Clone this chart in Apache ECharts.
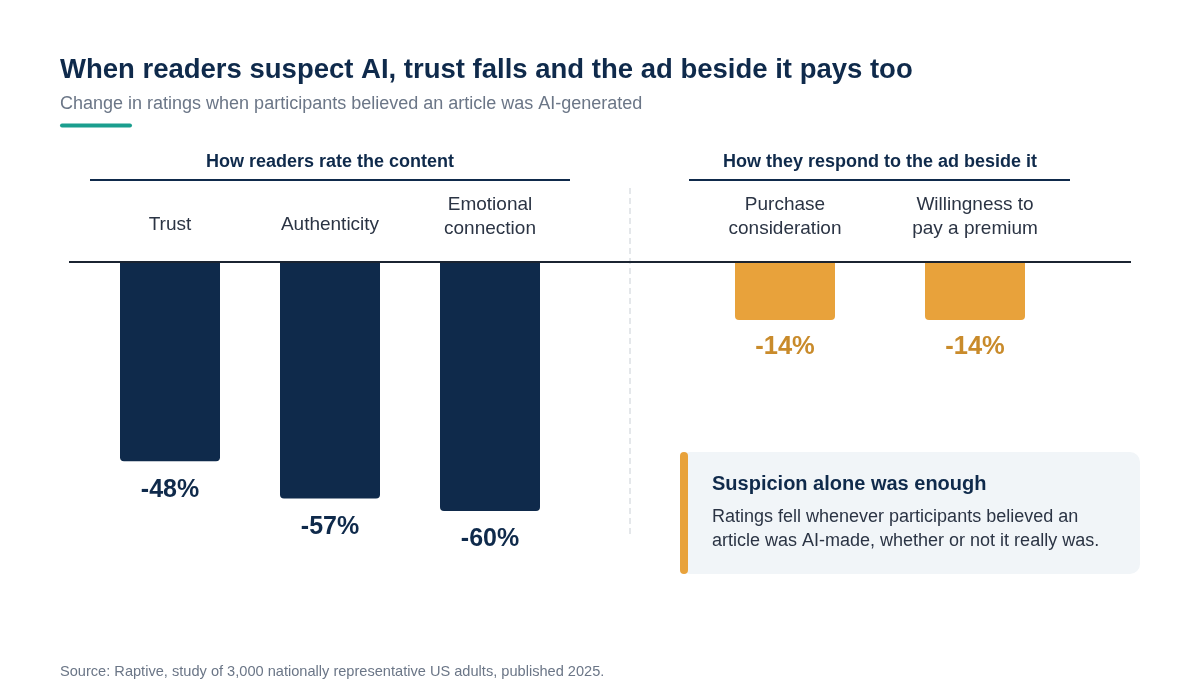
<!DOCTYPE html>
<html>
<head>
<meta charset="utf-8">
<script src="https://cdn.jsdelivr.net/npm/echarts@6/dist/echarts.min.js"></script>
<style>
  html, body { margin: 0; padding: 0; background: #ffffff; }
  #chart { width: 1200px; height: 700px; }
</style>
</head>
<body>
<div id="chart"></div>
<script>
// ---- Data ----
const contentCategories = ['Trust', 'Authenticity', 'Emotional\nconnection'];
const contentValues = [-48, -57, -60];
const adCategories = ['Purchase\nconsideration', 'Willingness to\npay a premium'];
const adValues = [-14, -14];
const groupTitles = ['How readers rate the content', 'How they respond to the ad beside it'];

const FONT = '"Liberation Sans", Arial, sans-serif';
const NAVY = '#0f2a4b';
const ORANGE = '#e8a23b';
const ORANGE_TEXT = '#c98b2b';

const chart = echarts.init(document.getElementById('chart'));

function xAxisFor(gridIndex, cats) {
  return {
    type: 'category',
    gridIndex: gridIndex,
    position: 'top',
    data: cats.map(c => ({ value: c, textStyle: { lineHeight: c.indexOf('\n') >= 0 ? 24 : 32 } })),
    axisLine: { show: false },
    axisTick: { show: false },
    axisLabel: {
      margin: 21,
      fontFamily: FONT,
      fontSize: 19,
      lineHeight: 24,
      color: '#2b3444',
      interval: 0
    }
  };
}
function yAxisFor(gridIndex) {
  return {
    type: 'value',
    gridIndex: gridIndex,
    min: -70,
    max: 0,
    show: false
  };
}
function labelFmt(p) { return p.value + '%'; }

chart.setOption({
  animation: false,
  grid: [
    { left: 90, width: 480, top: 262, height: 290.5 },
    { left: 690, width: 380, top: 262, height: 290.5 }
  ],
  xAxis: [xAxisFor(0, contentCategories), xAxisFor(1, adCategories)],
  yAxis: [yAxisFor(0), yAxisFor(1)],
  series: [
    {
      type: 'bar',
      xAxisIndex: 0, yAxisIndex: 0,
      data: contentValues,
      barWidth: 100,
      itemStyle: { color: NAVY, borderRadius: [0, 0, 4, 4] },
      label: {
        show: true, position: 'bottom', distance: 16,
        formatter: labelFmt,
        fontFamily: FONT, fontSize: 25, fontWeight: 'bold', color: NAVY
      }
    },
    {
      type: 'bar',
      xAxisIndex: 1, yAxisIndex: 1,
      data: adValues,
      barWidth: 100,
      itemStyle: { color: ORANGE, borderRadius: [0, 0, 4, 4] },
      label: {
        show: true, position: 'bottom', distance: 14,
        formatter: labelFmt,
        fontFamily: FONT, fontSize: 25.5, fontWeight: 'bold', color: ORANGE_TEXT
      }
    }
  ],
  graphic: [
    { type: 'text', x: 60, y: 70.5, style: { text: 'When readers suspect AI, trust falls and the ad beside it pays too', font: 'bold 27.5px ' + FONT, fill: NAVY, textVerticalAlign: 'middle' } },
    { type: 'text', x: 60, y: 104, style: { text: 'Change in ratings when participants believed an article was AI-generated', font: '18px ' + FONT, fill: '#6b7687', textVerticalAlign: 'middle' } },
    { type: 'rect', shape: { x: 60, y: 123.5, width: 72, height: 4, r: 2 }, style: { fill: '#1a9e8e' } },
    // group headers
    { type: 'text', x: 330, y: 162, style: { text: groupTitles[0], font: 'bold 18px ' + FONT, fill: NAVY, textAlign: 'center', textVerticalAlign: 'middle' } },
    { type: 'text', x: 880, y: 162, style: { text: groupTitles[1], font: 'bold 18px ' + FONT, fill: NAVY, textAlign: 'center', textVerticalAlign: 'middle' } },
    { type: 'line', shape: { x1: 90, y1: 180, x2: 570, y2: 180 }, style: { stroke: NAVY, lineWidth: 2 } },
    { type: 'line', shape: { x1: 689, y1: 180, x2: 1070, y2: 180 }, style: { stroke: NAVY, lineWidth: 2 } },
    // divider
    { type: 'line', shape: { x1: 630, y1: 188, x2: 630, y2: 538 }, style: { stroke: '#dcdfe3', lineWidth: 1.5, lineDash: [6, 4] } },
    // baseline
    { type: 'line', z: 100, shape: { x1: 69, y1: 262, x2: 1131, y2: 262 }, style: { stroke: '#1b2431', lineWidth: 2 } },
    // callout
    { type: 'rect', shape: { x: 680, y: 452, width: 460, height: 122, r: 10 }, style: { fill: '#f1f5f8' } },
    { type: 'rect', shape: { x: 680, y: 452, width: 8, height: 122, r: 4 }, style: { fill: ORANGE } },
    { type: 'text', x: 712, y: 484.5, style: { text: 'Suspicion alone was enough', font: 'bold 20px ' + FONT, fill: NAVY, textVerticalAlign: 'middle' } },
    { type: 'text', x: 712, y: 517, style: { text: 'Ratings fell whenever participants believed an', font: '18px ' + FONT, fill: '#2b3444', textVerticalAlign: 'middle' } },
    { type: 'text', x: 712, y: 541, style: { text: 'article was AI-made, whether or not it really was.', font: '18px ' + FONT, fill: '#2b3444', textVerticalAlign: 'middle' } },
    // footer
    { type: 'text', x: 60, y: 671.5, style: { text: 'Source: Raptive, study of 3,000 nationally representative US adults, published 2025.', font: '14.6px ' + FONT, fill: '#6b7687', textVerticalAlign: 'middle' } }
  ]
});
</script>
</body>
</html>
